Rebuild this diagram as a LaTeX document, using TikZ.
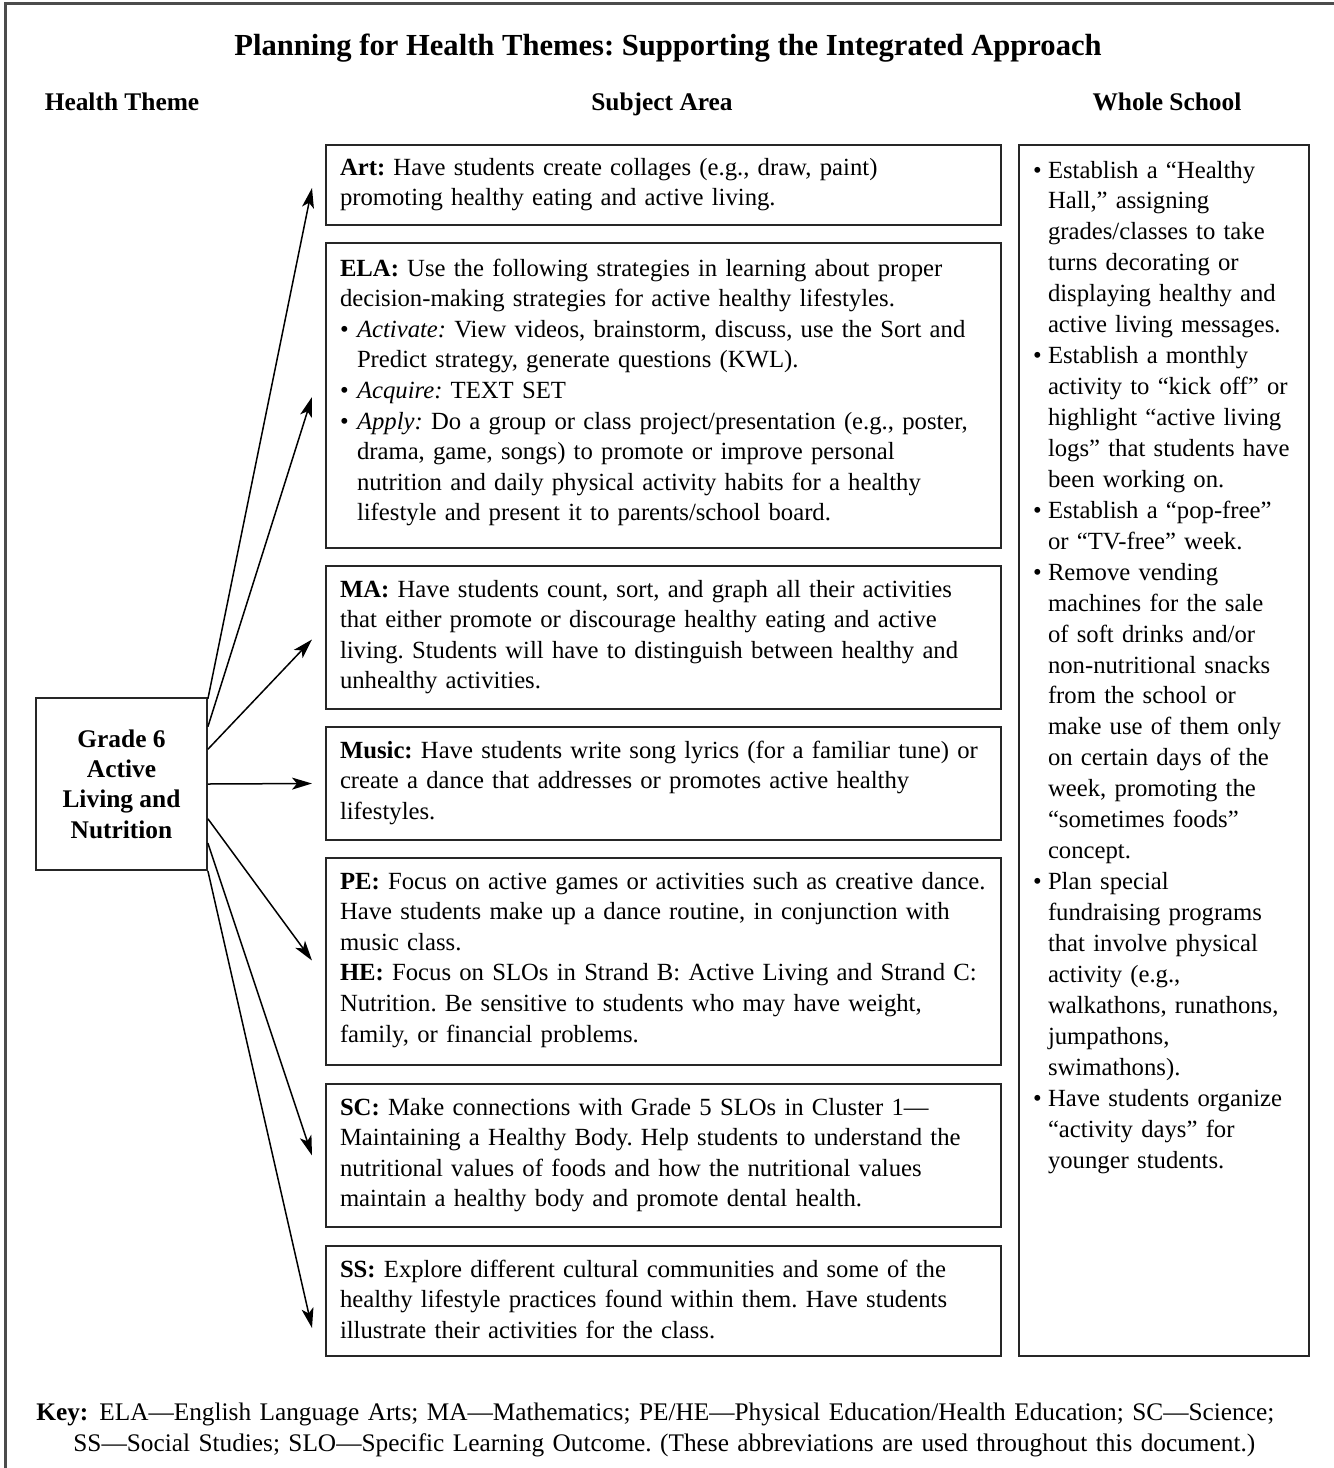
\documentclass[tikz,border=0pt]{standalone}
\usepackage{fontspec}
\setmainfont{Liberation Serif}
\usetikzlibrary{arrows.meta,calc,positioning}

\newlength{\bulletwd}
\setlength{\bulletwd}{8.5pt}
\newcommand{\bodyfont}{\fontsize{12.35}{15.3}\selectfont}
\newcommand{\bitem}{\makebox[\bulletwd][l]{\textbullet}}
\newcommand{\bcont}{\hspace*{\bulletwd}}

\tikzset{
  frame/.style={draw=black!70, line width=1.5pt},
  title/.style={anchor=base, inner sep=0pt, font=\bfseries\fontsize{15.3}{18}\selectfont},
  head/.style={anchor=base, inner sep=0pt, font=\bfseries\fontsize{12.7}{15}\selectfont},
  theme/.style={draw=black!85, line width=0.9pt, minimum width=85.5pt, minimum height=86pt,
    align=center, inner sep=0pt, font=\bfseries\fontsize{12.7}{15.15}\selectfont},
  subject/.style 2 args={draw=black!85, line width=0.9pt, text width=323.5pt, align=left,
    inner xsep=7pt, inner ysep=0pt, outer sep=0pt, font=\bodyfont, text height=#1, text depth=#2},
  wholebox/.style={draw=black!85, line width=0.9pt, text width=131pt, align=left,
    inner xsep=7pt, inner ysep=0pt, outer sep=0pt, text height=16.5pt, text depth=589pt,
    font={\fontsize{12.35}{15.47}\selectfont\setlength{\bulletwd}{7.5pt}}},
  keytext/.style={anchor=north west, inner sep=0pt, text width=645pt, align=left,
    text height=10pt, font=\fontsize{12.65}{15.5}\selectfont},
  arr/.style={->, draw=black, line width=0.75pt}
}

\begin{document}
\frenchspacing
\begin{tikzpicture}[x=0.5pt, y=-0.5pt, >={Stealth[length=10pt,width=6pt,inset=2.5pt]}]
\useasboundingbox (0,0) rectangle (1334,1468);
\clip (0,0) rectangle (1334,1468);
% outer frame, runs off the page at right and bottom
\draw[frame] (5.5,3.5) rectangle (1350,1490);

% headings
\node[title] (title) at (668,55) {Planning for Health Themes: Supporting the Integrated Approach};
\node[head] (hTheme) at (122,110) {Health Theme};
\node[head] (hSubject) at (662,110) {Subject Area};
\node[head] (hWhole) at (1167,110) {Whole School};

% health theme
\node[theme] (theme) at (121.5,784) {Grade 6\\Active\\Living and\\Nutrition};

% subject area column
\node[subject={15pt}{25pt}, anchor=north west] (art) at (326,145)
  {\textbf{Art:} Have students create collages (e.g., draw, paint)\\
   promoting healthy eating and active living.};
\node[subject={16.5pt}{136pt}, below=9pt of art] (ela)
  {\textbf{ELA:} Use the following strategies in learning about proper\\
   decision-making strategies for active healthy lifestyles.\\
   \bitem\textit{Activate:} View videos, brainstorm, discuss, use the Sort and\\
   \bcont Predict strategy, generate questions (KWL).\\
   \bitem\textit{Acquire:} TEXT SET\\
   \bitem\textit{Apply:} Do a group or class project/presentation (e.g., poster,\\
   \bcont drama, game, songs) to promote or improve personal\\
   \bcont nutrition and daily physical activity habits for a healthy\\
   \bcont lifestyle and present it to parents/school board.};
\node[subject={15.5pt}{56pt}, below=9pt of ela] (ma)
  {\textbf{MA:} Have students count, sort, and graph all their activities\\
   that either promote or discourage healthy eating and active\\
   living. Students will have to distinguish between healthy and\\
   unhealthy activities.};
\node[subject={15.5pt}{41pt}, below=9pt of ma] (music)
  {\textbf{Music:} Have students write song lyrics (for a familiar tune) or\\
   create a dance that addresses or promotes active healthy\\
   lifestyles.};
\node[subject={15.5pt}{88pt}, below=9pt of music] (pe)
  {\textbf{PE:} Focus on active games or activities such as creative dance.\\
   Have students make up a dance routine, in conjunction with\\
   music class.\\
   \textbf{HE:} Focus on SLOs in Strand B: Active Living and Strand C:\\
   Nutrition. Be sensitive to students who may have weight,\\
   family, or financial problems.};
\node[subject={15.5pt}{56pt}, below=9.5pt of pe] (sc)
  {\textbf{SC:} Make connections with Grade 5 SLOs in Cluster 1—\\
   Maintaining a Healthy Body. Help students to understand the\\
   nutritional values of foods and how the nutritional values\\
   maintain a healthy body and promote dental health.};
\node[subject={15.5pt}{39.5pt}, below=9.5pt of sc] (ss)
  {\textbf{SS:} Explore different cultural communities and some of the\\
   healthy lifestyle practices found within them. Have students\\
   illustrate their activities for the class.};

% whole school column
\node[wholebox, right=9pt of art.north east, anchor=north west] (whole)
  {\bitem Establish a “Healthy\\
   \bcont Hall,” assigning\\
   \bcont grades/classes to take\\
   \bcont turns decorating or\\
   \bcont displaying healthy and\\
   \bcont active living messages.\\
   \bitem Establish a monthly\\
   \bcont activity to “kick off” or\\
   \bcont highlight “active living\\
   \bcont logs” that students have\\
   \bcont been working on.\\
   \bitem Establish a “pop-free”\\
   \bcont or “TV-free” week.\\
   \bitem Remove vending\\
   \bcont machines for the sale\\
   \bcont of soft drinks and/or\\
   \bcont non-nutritional snacks\\
   \bcont from the school or\\
   \bcont make use of them only\\
   \bcont on certain days of the\\
   \bcont week, promoting the\\
   \bcont “sometimes foods”\\
   \bcont concept.\\
   \bitem Plan special\\
   \bcont fundraising programs\\
   \bcont that involve physical\\
   \bcont activity (e.g.,\\
   \bcont walkathons, runathons,\\
   \bcont jumpathons,\\
   \bcont swimathons).\\
   \bitem Have students organize\\
   \bcont “activity days” for\\
   \bcont younger students.};

% arrows from the theme to each subject
\foreach \b/\f/\dy in {art/0.01/-1.5pt, ela/0.17/-0.75pt, ma/0.30/-1pt, music/0.5/0pt,
                       pe/0.70/0.5pt, sc/0.84/0pt, ss/1/-13.5pt}
  \draw[arr] ($(theme.north east)!\f!(theme.south east)$) -- ([xshift=-7pt,yshift=\dy]\b.west);

% key
\node[keytext] (key) at (36,1400)
  {\textbf{Key:}\hspace{5.5pt}ELA—English Language Arts; MA—Mathematics; PE/HE—Physical Education/Health Education; SC—Science;\\
   \hspace*{18.5pt}SS—Social Studies; SLO—Specific Learning Outcome. (These abbreviations are used throughout this document.)};
\end{tikzpicture}
\end{document}
